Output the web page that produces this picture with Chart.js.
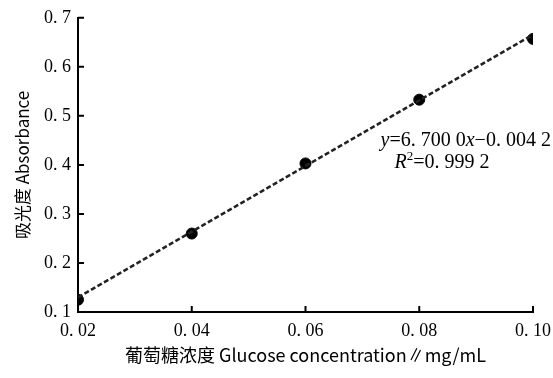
<!DOCTYPE html>
<html>
<head>
<meta charset="utf-8">
<script src="https://cdn.jsdelivr.net/npm/chart.js@4/dist/chart.umd.min.js"></script>
<style>
  html, body { margin: 0; padding: 0; background: #fff; }
  #wrap { width: 553px; height: 378px; }
</style>
</head>
<body>
<div id="wrap"><canvas id="c"></canvas></div>
<script>
// measured standard curve
const concentration = [0.02, 0.04, 0.06, 0.08, 0.10];
const absorbance = [0.125, 0.260, 0.403, 0.533, 0.657];

// fitted line ends, y = 6.7000x - 0.0042
const fitX = [0.02, 0.10];
const fitY = [0.1298, 0.6658];

const xTicks = [0.02, 0.04, 0.06, 0.08, 0.10];
const yTicks = [0.1, 0.2, 0.3, 0.4, 0.5, 0.6, 0.7];

const SERIF = '"Liberation Serif", "DejaVu Serif", serif';
const CJK = '"Noto Sans CJK SC", sans-serif';

function spaced(v, digits) {
    return v.toFixed(digits).replace('.', '. ');
}

// ticks on this chart point into the plot, so draw them ourselves
const innerTicks = {
    id: 'innerTicks',
    afterDraw(chart) {
        const { ctx, chartArea, scales } = chart;
        ctx.save();
        ctx.strokeStyle = '#000';
        ctx.lineWidth = 2;
        ctx.beginPath();
        xTicks.forEach((v) => {
            const px = scales.x.getPixelForValue(v);
            ctx.moveTo(px, chartArea.bottom);
            ctx.lineTo(px, chartArea.bottom - 6);
        });
        yTicks.forEach((v) => {
            const py = scales.y.getPixelForValue(v);
            ctx.moveTo(chartArea.left, py);
            ctx.lineTo(chartArea.left + 6, py);
        });
        ctx.stroke();
        ctx.restore();
    },
};

// regression equation text
const equation = {
    id: 'equation',
    afterDraw(chart) {
        const { ctx, scales } = chart;
        const x0 = scales.x.getPixelForValue(0.0732);
        const y0 = scales.y.getPixelForValue(0.438);
        const size = 20;
        ctx.save();
        ctx.fillStyle = '#000';
        ctx.textBaseline = 'alphabetic';
        ctx.textAlign = 'left';

        const run = (parts, x, y) => {
            parts.forEach(([text, style, dy]) => {
                ctx.font = style;
                ctx.fillText(text, x, y + (dy || 0));
                x += ctx.measureText(text).width;
            });
        };
        const it = 'italic ' + size + 'px ' + SERIF;
        const up = size + 'px ' + SERIF;
        const sup = '13px ' + SERIF;

        run([
            ['y', it], ['=6. 700 0', up], ['x', it], ['\u22120. 004 2', up],
        ], x0, y0);
        run([
            ['R', it], ['2', sup, -8], ['=0. 999 2', up],
        ], x0 + 14, y0 + 22);
        ctx.restore();
    },
};

new Chart(document.getElementById('c'), {
    type: 'scatter',
    data: {
        datasets: [
            {
                label: 'fit',
                type: 'line',
                data: fitX.map((x, i) => ({ x, y: fitY[i] })),
                borderColor: '#222',
                borderWidth: 2.5,
                borderDash: [5, 2.5],
                pointRadius: 0,
                fill: false,
            },
            {
                label: 'Absorbance',
                data: concentration.map((x, i) => ({ x, y: absorbance[i] })),
                backgroundColor: '#000',
                borderColor: '#000',
                pointRadius: 5.5,
                pointHoverRadius: 5.5,
            },
        ],
    },
    options: {
        responsive: true,
        maintainAspectRatio: false,
        animation: false,
        layout: {
            padding: { top: 13, right: 20, left: 0, bottom: 12 },
        },
        plugins: {
            legend: { display: false },
            tooltip: { enabled: false },
        },
        scales: {
            x: {
                type: 'linear',
                min: 0.02,
                max: 0.10,
                afterBuildTicks(scale) {
                    scale.ticks = xTicks.map((value) => ({ value }));
                },
                afterFit(scale) {
                    scale.height = 54;
                    scale.paddingRight = 0;
                    scale.paddingLeft = 0;
                },
                grid: { display: false, drawTicks: false },
                border: { display: true, color: '#000', width: 2 },
                ticks: {
                    color: '#000',
                    padding: 8,
                    maxRotation: 0,
                    font: { family: SERIF, size: 18 },
                    callback: (v) => spaced(v, 2),
                },
                title: {
                    display: true,
                    text: '葡萄糖浓度 Glucose concentration\u2225mg/mL',
                    color: '#000',
                    font: { family: CJK, size: 18 },
                    padding: { top: 4, bottom: 0 },
                },
            },
            y: {
                type: 'linear',
                min: 0.1,
                max: 0.7,
                afterBuildTicks(scale) {
                    scale.ticks = yTicks.map((value) => ({ value }));
                },
                afterFit(scale) { scale.width = 78; },
                grid: { display: false, drawTicks: false },
                border: { display: true, color: '#000', width: 2 },
                ticks: {
                    color: '#000',
                    padding: 7,
                    font: { family: SERIF, size: 18 },
                    callback: (v) => spaced(v, 1),
                },
                title: {
                    display: true,
                    text: '吸光度 Absorbance',
                    color: '#000',
                    font: { family: CJK, size: 17 },
                    padding: { top: 12, bottom: 0 },
                },
            },
        },
    },
    plugins: [innerTicks, equation],
});
</script>
</body>
</html>
